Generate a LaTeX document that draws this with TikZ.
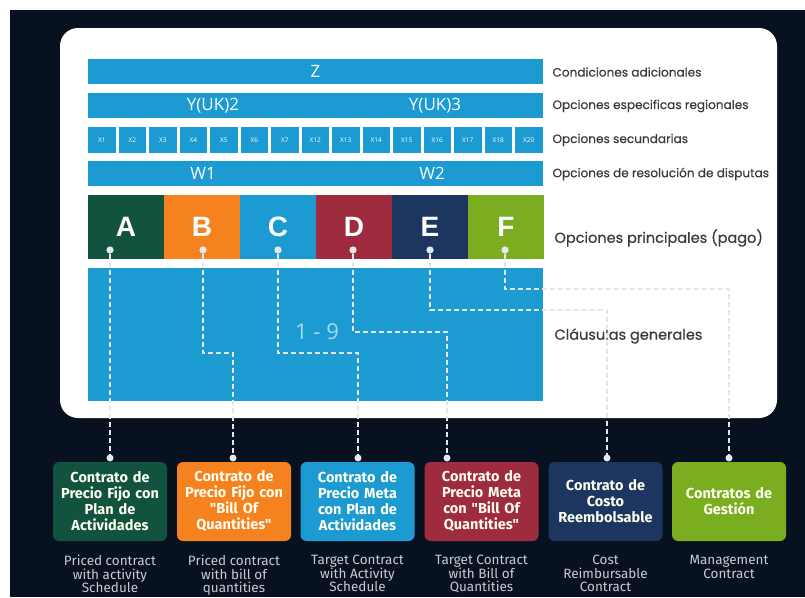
\documentclass[tikz,border=0pt]{standalone}
\usepackage{fontspec}
\setmainfont{Open Sans}
\newfontfamily\popfont{Poppins}[FakeBold=0.35,AutoFakeBold=0.35]
\newfontfamily\firafont{Fira Sans}
\newfontfamily\letterfont{Liberation Sans}

\definecolor{night}{HTML}{071120}
\definecolor{barblue}{HTML}{1B9BD1}
\definecolor{optA}{HTML}{12533F}
\definecolor{optB}{HTML}{F5821F}
\definecolor{optC}{HTML}{1B9BD1}
\definecolor{optD}{HTML}{9E2B3E}
\definecolor{optE}{HTML}{1C365F}
\definecolor{optF}{HTML}{7BAD20}
\definecolor{labelgray}{HTML}{3A3A3A}
\definecolor{linkcol}{HTML}{E2E8EE}
\definecolor{subgray}{HTML}{C8CCD2}

\begin{document}
\begin{tikzpicture}[
			x=1pt, y=-1pt,
			bar/.style={
				fill=barblue,
				minimum width=455pt,
				minimum height=25pt,
				inner sep=0pt,
				text=white,
				font=\fontsize{17}{17}\selectfont
			},
			xbox/.style={
				fill=barblue,
				minimum width=27.6pt,
				minimum height=26pt,
				inner sep=0pt,
				text=white,
				font=\fontsize{6.5}{6.5}\selectfont
			},
			opt/.style={
				minimum width=76pt,
				minimum height=64pt,
				inner sep=0pt,
				text=white,
				font=\letterfont\bfseries\fontsize{28}{28}\selectfont
			},
			tag/.style={
				anchor=west,
				text=labelgray,
				font=\popfont\bfseries\fontsize{12.1}{14}\selectfont
			},
			bigtag/.style={
				anchor=west,
				text=labelgray,
				font=\popfont\bfseries\fontsize{14.5}{16}\selectfont
			},
			dot/.style={
				circle,
				fill=linkcol,
				minimum size=7pt,
				inner sep=0pt
			},
			link/.style={
				draw=linkcol,
				line width=1.6pt,
				dash pattern=on 5pt off 3pt
			},
			contract/.style={
				rounded corners=6pt,
				minimum height=79pt,
				text width=112pt,
				inner sep=1pt,
				align=center,
				text=white!94!yellow,
				font=\firafont\bfseries\fontsize{14.5}{16}\selectfont
			},
			english/.style={
				anchor=north,
				align=center,
				inner sep=0pt,
				text=subgray,
				font=\firafont\fontsize{13.5}{13.5}\selectfont
			}
			]
			\useasboundingbox (0,0) rectangle (805,597);
			\fill[white] (0,0) rectangle (805,597);
			\fill[night] (10,10) rectangle (805,597);
			\fill[white, rounded corners=18pt] (60,28) rectangle (777,418);

			% option layers
			\node[bar] (z) at (315.5,71.5) {};
			\node at (315.5,71.5) [text=white, font=\fontsize{17}{17}\selectfont] {Z};
			\node[bar] (y) at (315.5,105.5) {};
			\node at (213,105.5) [text=white, font=\fontsize{17}{17}\selectfont] {Y(UK)2};
			\node at (435,105.5) [text=white, font=\fontsize{17}{17}\selectfont] {Y(UK)3};
			\node[xbox] (x1) at (101.8,140) {X1};
			\node[xbox] (x2) at (132.3,140) {X2};
			\node[xbox] (x3) at (162.8,140) {X3};
			\node[xbox] (x4) at (193.3,140) {X4};
			\node[xbox] (x5) at (223.8,140) {X5};
			\node[xbox] (x6) at (254.3,140) {X6};
			\node[xbox] (x7) at (284.8,140) {X7};
			\node[xbox] (x12) at (315.3,140) {X12};
			\node[xbox] (x13) at (345.8,140) {X13};
			\node[xbox] (x14) at (376.3,140) {X14};
			\node[xbox] (x15) at (406.8,140) {X15};
			\node[xbox] (x16) at (437.3,140) {X16};
			\node[xbox] (x17) at (467.8,140) {X17};
			\node[xbox] (x18) at (498.3,140) {X18};
			\node[xbox] (x20) at (528.8,140) {X20};
			\node[bar] (w) at (315.5,173.5) {};
			\node at (203,173.5) [text=white, font=\fontsize{17}{17}\selectfont] {W1};
			\node at (432,173.5) [text=white, font=\fontsize{17}{17}\selectfont] {W2};
			\node[opt, fill=optA] (pa) at (126,227) {A};
			\node[opt, fill=optB] (pb) at (202,227) {B};
			\node[opt, fill=optC] (pc) at (278,227) {C};
			\node[opt, fill=optD] (pd) at (354,227) {D};
			\node[opt, fill=optE] (pe) at (430,227) {E};
			\node[opt, fill=optF] (pf) at (506,227) {F};
			\node[bar, minimum height=133pt] (g) at (315.5,334.5) {};
			\node at (317,332) [text=white!62!barblue, font=\fontsize{22}{22}\selectfont] {1 - 9};

			% layer names
			\node[tag] (tz) at (549,72) {Condiciones adicionales};
			\node[tag] (ty) at (549,106) {Opciones especificas regionales};
			\node[tag] (tx) at (549,140) {Opciones secundarias};
			\node[tag] (tw) at (549,174) {Opciones de resolución de disputas};
			\node[bigtag] (tp) at (551,238) {Opciones principales (pago)};
			\node[bigtag] (tg) at (551,336) {Cláusulas generales};

			% dashed links down to the contract types
			\node[dot] (da) at (110,250) {};
			\node[dot] (db) at (203,250) {};
			\node[dot] (dc) at (278,250) {};
			\node[dot] (dd) at (353,250) {};
			\node[dot] (de) at (430,250) {};
			\node[dot] (df) at (505,250) {};
			\coordinate (kb) at (233,353);
			\coordinate (kc) at (358,353);
			\coordinate (kd) at (447,332);
			\coordinate (ke) at (607,310);
			\coordinate (kf) at (729,289);
			\coordinate (ea) at (110,458);
			\coordinate (eb) at (233,458);
			\coordinate (ec) at (358,458);
			\coordinate (ed) at (447,458);
			\coordinate (ef) at (607,458);
			\coordinate (eg) at (729,458);
			\draw[link] (da) -- (ea);
			\draw[link] (db) |- (kb) -- (eb);
			\draw[link] (dc) |- (kc) -- (ec);
			\draw[link] (dd) |- (kd) -- (ed);
			\draw[link] (de) |- (ke) -- (ef);
			\draw[link] (df) |- (kf) -- (eg);
			\node[dot] at (da) {};
			\node[dot] at (db) {};
			\node[dot] at (dc) {};
			\node[dot] at (dd) {};
			\node[dot] at (de) {};
			\node[dot] at (df) {};

			% contract types
			\node[contract, fill=optA] (ca) at (110,501.5) {Contrato de\\Precio Fijo con\\Plan de\\Actividades};
			\node[contract, fill=optB] (cb) at (234,501.5) {Contrato de\\Precio Fijo con\\"Bill Of\\Quantities"};
			\node[contract, fill=optC] (cc) at (357.5,501.5) {Contrato de\\Precio Meta\\con Plan de\\Actividades};
			\node[contract, fill=optD] (cd) at (481.5,501.5) {Contrato de\\Precio Meta\\con "Bill Of\\Quantities"};
			\node[contract, fill=optE] (ce) at (605.5,501.5) {Contrato de\\Costo\\Reembolsable};
			\node[contract, fill=optF] (cf) at (729,501.5) {Contratos de\\Gestión};
			\node[dot] at (ea) {};
			\node[dot] at (eb) {};
			\node[dot] at (ec) {};
			\node[dot] at (ed) {};
			\node[dot] at (ef) {};
			\node[dot] at (eg) {};

			\node[english] (na) at (110,555) {Priced contract\\with activity\\Schedule};
			\node[english] (nb) at (234,555) {Priced contract\\with bill of\\quantities};
			\node[english] (nc) at (357.5,555) {Target Contract\\with Activity\\Schedule};
			\node[english] (nd) at (481.5,555) {Target Contract\\with Bill of\\Quantities};
			\node[english] (ne) at (605.5,555) {Cost\\Reimbursable\\Contract};
			\node[english] (nf) at (729,555) {Management\\Contract};
		\end{tikzpicture}
\end{document}
